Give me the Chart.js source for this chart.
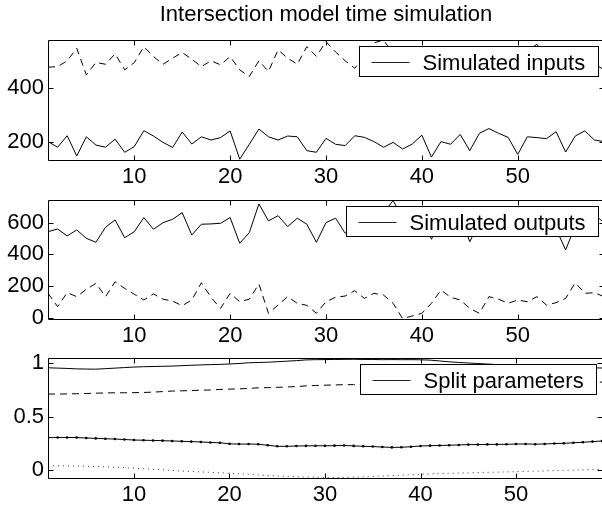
<!DOCTYPE html>
<html><head><meta charset="utf-8">
<script src="https://cdn.jsdelivr.net/npm/chart.js@4.4.1/dist/chart.umd.min.js"></script>
<style>
html,body{margin:0;padding:0;overflow:hidden;background:#fff;width:602px;height:509px;}
#wrap{position:relative;width:602px;height:509px;overflow:hidden;background:#fff;}
canvas{position:absolute;left:0;}
</style></head><body>
<div id="wrap">
<canvas id="c1" width="606" height="190" style="top:0px"></canvas>
<canvas id="c2" width="606" height="160" style="top:190px"></canvas>
<canvas id="c3" width="606" height="169" style="top:340px"></canvas>
</div>
<script>
const titleText = 'Intersection model time simulation';
const legendLabels = ['Simulated inputs', 'Simulated outputs', 'Split parameters'];
const steps = [1,2,3,4,5,6,7,8,9,10,11,12,13,14,15,16,17,18,19,20,21,22,23,24,25,26,27,28,29,30,31,32,33,34,35,36,37,38,39,40,41,42,43,44,45,46,47,48,49,50,51,52,53,54,55,56,57,58,59];
const xTicks = [10,20,30,40,50];

const inputsSolid = [200,179,222,146,218,187,179,209,160,181, 241,221,197,178,236,191,218,206,215,240, 134,190,247,218,206,221,218,166,160,212, 190,185,222,216,200,179,197,172,191,224, 142,200,190,227,166,231,249,231,216,152, 218,215,211,237,161,221,240,206,200];
const inputsDashed = [479,481,503,550,450,497,490,529,469,496, 556,519,490,513,534,509,481,503,488,519, 469,444,503,463,544,513,490,556,520,575, 536,503,475,520,570,581,530,448,510,495, 530,505,480,520,500,540,490,515,530,500, 540,565,510,495,530,505,520,490,470];
const inputsTicks = [200,400];
const inputsRange = [131,581];

const outputsSolid = [543,560,516,554,501,476,571,617,505,543, 632,558,600,621,663,522,590,592,596,632, 470,537,718,611,644,575,628,590,476,600, 628,533,590,640,610,660,740,630,600,650, 495,620,590,640,480,600,650,580,620,600, 640,570,610,560,428,580,620,650,600];
const outputsDashed = [154,70,158,133,179,217,133,227,185,148, 112,150,117,105,76,112,221,129,59,154, 101,117,213,28,80,133,91,78,28,101, 129,137,171,122,154,143,91,-6,11,28, 91,175,129,112,59,28,133,117,91,112, 101,133,80,95,122,221,154,158,133];
const outputsTicks = [0,200,400,600];
const outputsRange = [-8,746];

const splitA = [0.958,0.955,0.952,0.948,0.946,0.945,0.950,0.955,0.960,0.965, 0.968,0.970,0.972,0.974,0.978,0.982,0.985,0.988,0.990,0.994, 0.998,1.005,1.008,1.010,1.015,1.020,1.025,1.032,1.034,1.035, 1.036,1.037,1.038,1.036,1.036,1.034,1.035,1.034,1.034,1.033, 1.030,1.022,1.014,1.008,1.003,0.998,0.993,0.988,0.983,0.978, 0.975,0.972,0.968,0.965,0.962,0.960,0.958,0.957,0.956];
const splitB = [0.712,0.712,0.713,0.715,0.717,0.720,0.722,0.724,0.724,0.725, 0.727,0.730,0.735,0.740,0.742,0.745,0.748,0.750,0.755,0.758, 0.760,0.765,0.770,0.772,0.775,0.778,0.782,0.788,0.792,0.795, 0.797,0.800,0.800,0.802,0.803,0.805,0.806,0.808,0.808,0.810, 0.811,0.812,0.812,0.813,0.814,0.815,0.816,0.816,0.817,0.818, 0.818,0.819,0.820,0.820,0.821,0.822,0.822,0.823,0.824];
const splitC = [0.303,0.305,0.305,0.304,0.300,0.296,0.293,0.290,0.286,0.281, 0.279,0.277,0.275,0.272,0.269,0.266,0.263,0.258,0.255,0.245, 0.243,0.243,0.242,0.232,0.222,0.222,0.225,0.226,0.227,0.227, 0.228,0.230,0.226,0.222,0.220,0.215,0.212,0.213,0.218,0.225, 0.228,0.230,0.232,0.235,0.238,0.238,0.240,0.240,0.241,0.243, 0.244,0.242,0.244,0.248,0.250,0.255,0.260,0.266,0.272];
const splitD = [0.040,0.040,0.039,0.037,0.035,0.032,0.030,0.027,0.022,0.016, 0.012,0.006,0.002,-0.004,-0.010,-0.014,-0.018,-0.022,-0.026,-0.031, -0.036,-0.041,-0.046,-0.051,-0.056,-0.060,-0.063,-0.066,-0.068,-0.070, -0.070,-0.069,-0.067,-0.064,-0.060,-0.056,-0.052,-0.048,-0.044,-0.040, -0.037,-0.034,-0.031,-0.029,-0.027,-0.024,-0.022,-0.020,-0.018,-0.016, -0.013,-0.011,-0.008,-0.006,-0.003,-0.001,0.002,0.004,0.006];
const splitTicks = [0,0.5,1];
const splitRange = [-0.075,1.047];

Chart.defaults.font.family = '"Liberation Sans", Arial, Helvetica, sans-serif';
Chart.defaults.font.size = 22;
Chart.defaults.color = '#000';
Chart.defaults.animation = false;

const FONT = '22px "Liberation Sans", Arial, sans-serif';

const framePlugin = {
  id: 'frame',
  afterDatasetsDraw(chart) {
    const {ctx, chartArea: a, scales} = chart;
    const L = 5;
    ctx.save();
    ctx.strokeStyle = '#000';
    ctx.lineWidth = 1;
    ctx.setLineDash([]);
    const l = Math.round(a.left) + 0.5, t = Math.round(a.top) + 0.5;
    const r = Math.round(a.right) + 0.5, b = Math.round(a.bottom) + 0.5;
    ctx.beginPath();
    ctx.rect(l, t, r - l, b - t);
    scales.x.ticks.forEach(tk => {
      const px = Math.round(scales.x.getPixelForValue(tk.value)) + 0.5;
      ctx.moveTo(px, b); ctx.lineTo(px, b - L);
      ctx.moveTo(px, t); ctx.lineTo(px, t + L);
    });
    scales.y.ticks.forEach(tk => {
      const py = Math.round(scales.y.getPixelForValue(tk.value)) + 0.5;
      ctx.moveTo(l, py); ctx.lineTo(l + L, py);
      ctx.moveTo(r, py); ctx.lineTo(r - L, py);
    });
    ctx.stroke();
    // legend (first dataset only, as in the original)
    const ds = chart.data.datasets[0];
    ctx.font = FONT;
    const tw = ctx.measureText(ds.label).width;
    const bw = Math.round(tw + 76);
    const bh = 30;
    const bx = Math.round(a.right - 6.5 - bw) + 0.5;
    const by = Math.round(a.top + 6) + 0.5;
    ctx.fillStyle = '#fff';
    ctx.fillRect(bx, by, bw, bh);
    ctx.strokeRect(bx, by, bw, bh);
    const cy = Math.round(by + bh / 2) + 0.5;
    ctx.beginPath();
    ctx.strokeStyle = '#222';
    ctx.moveTo(bx + 12, cy); ctx.lineTo(bx + 50, cy);
    ctx.stroke();
    ctx.fillStyle = '#000';
    ctx.textBaseline = 'middle';
    ctx.textAlign = 'left';
    ctx.fillText(ds.label, bx + 63, cy + 1);
    ctx.restore();
  }
};

function fixY(s) { s.width = 48; s.paddingTop = 0; s.paddingBottom = 0; }
function makeX(h) {
  return {
    type: 'linear', min: 1, max: 59,
    grid: { display: false, drawTicks: false },
    border: { display: false },
    ticks: { padding: 4, maxRotation: 0, autoSkip: false },
    afterBuildTicks: s => { s.ticks = xTicks.map(v => ({ value: v })); },
    afterFit: s => { s.height = h; s.paddingLeft = 0; s.paddingRight = 0; }
  };
}
function makeY(range, tickVals) {
  return {
    type: 'linear', min: range[0], max: range[1],
    grid: { display: false, drawTicks: false },
    border: { display: false },
    ticks: { padding: 4, callback: v => String(v) },
    afterBuildTicks: s => { s.ticks = tickVals.map(v => ({ value: v })); },
    afterFit: fixY
  };
}
function line(label, data, dash, extra) {
  return Object.assign({
    label, data: steps.map((x, i) => ({ x, y: data[i] })),
    borderColor: '#000', borderWidth: 1, borderDash: dash,
    pointRadius: 0, tension: 0, fill: false
  }, extra || {});
}
function make(id, datasets, xH, yRange, yTicks, padTop, title) {
  return new Chart(document.getElementById(id), {
    type: 'line',
    data: { datasets },
    options: {
      responsive: false, maintainAspectRatio: false, devicePixelRatio: 1,
      layout: { padding: { top: padTop, right: 2, left: 0, bottom: 0 } },
      scales: { x: makeX(xH), y: makeY(yRange, yTicks) },
      plugins: {
        legend: { display: false }, tooltip: { enabled: false },
        title: title ? {
          display: true, text: title, fullSize: false, color: '#000',
          font: { size: 22, weight: 'normal' },
          padding: { top: 2, bottom: 11.6 }
        } : { display: false }
      }
    },
    plugins: [framePlugin]
  });
}

make('c1', [
  line(legendLabels[0], inputsSolid, []),
  line('inputs 2', inputsDashed, [7, 5])
], 30, inputsRange, inputsTicks, 0, titleText);

make('c2', [
  line(legendLabels[1], outputsSolid, []),
  line('outputs 2', outputsDashed, [7, 5])
], 31, outputsRange, outputsTicks, 9.5, null);

make('c3', [
  line(legendLabels[2], splitA, []),
  line('split 2', splitB, [7, 5]),
  line('split 3', splitC, [], { pointRadius: 1.3, pointBackgroundColor: '#000', pointBorderWidth: 0 }),
  line('split 4', splitD, [1, 4], { borderColor: '#333' })
], 31, splitRange, splitTicks, 18.3, null);
</script>
</body></html>
